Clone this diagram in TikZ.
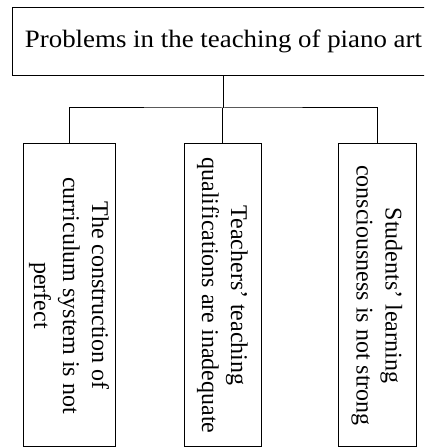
\documentclass[tikz,border=0pt]{standalone}
\usepackage{fontspec}
\setmainfont{Liberation Serif}
\newcommand{\vtext}[1]{\rotatebox{-90}{\fontsize{24}{29}\selectfont\begin{tabular}{@{}c@{}}#1\end{tabular}}}
\begin{document}
\begin{tikzpicture}[x=1pt,y=1pt,
  boxline/.style={draw=black,line width=1pt},
  conn/.style={draw=black,line width=1pt},
  vbox/.style={boxline,inner sep=0pt,minimum height=303pt}]
\useasboundingbox (0,0) rectangle (424,448);
\begin{scope}
\clip (0,0) rectangle (424,448);
\node[boxline,minimum width=423pt,minimum height=68.5pt,inner sep=0pt] (top) at (223.5,406.25)
  {\fontsize{25}{29}\selectfont\scalebox{1.075}[1]{Problems in the teaching of piano art}};
\end{scope}
\node[vbox,minimum width=92pt] (b1) at (69,152.5)
  {\vtext{The construction of\\curriculum system is not\\perfect}};
\node[vbox,minimum width=77pt] (b2) at (222.5,152.5)
  {\vtext{Teachers' teaching\\qualifications are inadequate}};
\node[vbox,minimum width=78pt] (b3) at (377,152.5)
  {\vtext{Students' learning\\consciousness is not strong}};
\coordinate (j) at (223,340);
\draw[conn] (top.south -| j) -- (j);
\draw[conn] (b1.north) |- (j) -| (b3.north);
\draw[conn] (b2.north) -- (b2.north |- j);
\end{tikzpicture}
\end{document}
